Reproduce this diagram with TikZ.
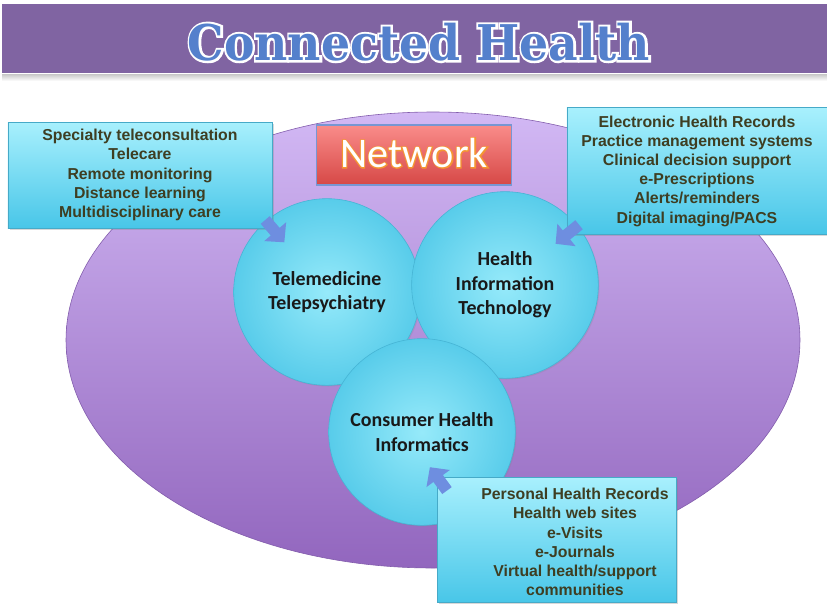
\documentclass[tikz,border=0pt]{standalone}
\usepackage{graphicx}
\usepackage{fontspec}
\setmainfont{Liberation Sans}
\newfontfamily\ballfont{Carlito}
\newfontfamily\headfont{DejaVu Serif}
\newfontfamily\headrimfont{DejaVu Serif}[FakeBold=9]
\newfontfamily\netrimfont{Carlito}[FakeBold=5]
\usetikzlibrary{positioning,calc,shadows,arrows.meta}

\definecolor{bandpurple}{RGB}{128,100,162}
\definecolor{titleblue}{RGB}{84,128,204}
\definecolor{ovaltop}{RGB}{210,184,244}
\definecolor{ovalbot}{RGB}{146,102,190}
\definecolor{ovaledge}{RGB}{130,92,172}
\definecolor{boxtop}{RGB}{168,240,253}
\definecolor{boxbot}{RGB}{72,198,232}
\definecolor{boxedge}{RGB}{70,170,200}
\definecolor{boxtext}{RGB}{62,62,34}
\definecolor{ballin}{RGB}{150,234,250}
\definecolor{ballout}{RGB}{88,204,234}
\definecolor{balledge}{RGB}{70,180,212}
\definecolor{nettop}{RGB}{250,140,138}
\definecolor{netbot}{RGB}{214,72,70}
\definecolor{netedge}{RGB}{120,150,210}
\definecolor{netglow}{RGB}{244,150,50}
\definecolor{arrowblue}{RGB}{110,142,224}

\newcommand{\headline}{\scalebox{0.93}[1]{Connected Health}}

\tikzset{
  infotext/.style={align=center, text=boxtext, font=\bfseries\fontsize{13.5}{16.4}\selectfont},
  infobox/.style={rectangle, infotext, draw=boxedge, line width=0.5pt,
    top color=boxtop, bottom color=boxbot, inner sep=0pt,
    drop shadow={opacity=0.3, shadow xshift=1.5pt, shadow yshift=-1.5pt}},
  topic/.style={circle, draw=balledge, line width=0.5pt, inner color=ballin, outer color=ballout,
    minimum size=5.6cm, align=center, text=black!90,
    font=\ballfont\bfseries\fontsize{17}{21}\selectfont,
    drop shadow={opacity=0.2, shadow xshift=1pt, shadow yshift=-1pt}},
  headtext/.style={font=\headfont\bfseries\fontsize{42}{42}\selectfont, inner sep=0pt},
  headrim/.style={headtext, font=\headrimfont\bfseries\fontsize{42}{42}\selectfont},
  nettext/.style={font=\ballfont\fontsize{36}{36}\selectfont, text=white, inner sep=0pt},
  netbox/.style={rectangle, top color=nettop, bottom color=netbot, draw=netedge, line width=1pt,
    minimum width=5.85cm, minimum height=1.8cm},
  fatarrow/.style={draw=arrowblue, line width=10pt, -{Triangle[width=24pt,length=12pt]}},
}

\begin{document}
\begin{tikzpicture}[x=0.03cm, y=-0.03cm]
  \useasboundingbox[fill=white] (0,0) rectangle (827,608);

  % title band
  \fill[bandpurple] (2,4) rectangle (827,73);
  \shade[top color=black!22, bottom color=white] (2,74) rectangle (827,81);
  \coordinate (titlepos) at (419,42);
  \node[headrim, text=white] (titlerim) at (titlepos) {\headline};
  \node[headtext, text=titleblue] (title) at (titlepos) {\headline};

  % big oval
  \path[top color=ovaltop, bottom color=ovalbot, draw=ovaledge, line width=0.5pt]
    (433,340) ellipse [x radius=367, y radius=228];

  % the three areas
  \node[topic] (tele) at (327,292) {Telemedicine\\Telepsychiatry};
  \node[topic] (hit) at (505,285) {Health\\Information\\Technology};
  \node[topic] (cons) at (422,432) {Consumer Health\\Informatics};

  % network label
  \node[netbox] (net) at (414,155) {};
  \node[nettext, text=netglow, font=\netrimfont\fontsize{36}{36}\selectfont] (netglow) at ($(net.center)+(0,-2)$) {Network};
  \node[nettext] (netlabel) at ($(net.center)+(0,-2)$) {Network};

  % lists
  \node[infobox, minimum width=7.92cm, minimum height=3.18cm] (lbox) at (140,175)
    {Specialty teleconsultation\\Telecare\\Remote monitoring\\Distance learning\\Multidisciplinary care};
  \node[infobox, minimum width=7.8cm, minimum height=3.81cm] (rbox) at (697,171)
    {Electronic Health Records\\Practice management systems\\Clinical decision support\\e-Prescriptions\\Alerts/reminders\\Digital imaging/PACS};
  \node[infobox, minimum width=7.17cm, minimum height=3.75cm] (bbox) at (557,540) {};
  \node[infotext] (btext) at ($(bbox.center)+(18,2)$)
    {Personal Health Records\\Health web sites\\e-Visits\\e-Journals\\Virtual health/support\\communities};

  % arrows into the circles
  \draw[fatarrow] ($(lbox.south east)!-0.13!(tele.center)$) -- ($(lbox.south east)!0.22!(tele.center)$);
  \draw[fatarrow] ($(rbox.south west)!-0.2!(hit.center)$) -- ($(rbox.south west)!0.18!(hit.center)$);
  \draw[fatarrow] ($(bbox.north west)!-0.12!(cons.north west)$) -- ($(bbox.north west)!0.09!(cons.north west)$);
\end{tikzpicture}
\end{document}
